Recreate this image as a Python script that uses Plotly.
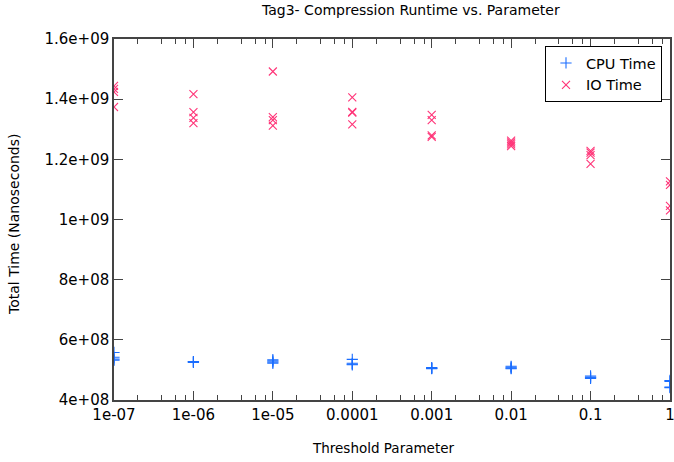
import plotly.graph_objects as go

# Threshold parameter values (x positions)
params = [1e-07, 1e-06, 1e-05, 1e-04, 1e-03, 1e-02, 1e-01, 1.0]

# Four runs per parameter
cpu_time = [
    [5.58e8, 5.42e8, 5.36e8, 5.32e8],
    [5.28e8, 5.27e8, 5.26e8, 5.25e8],
    [5.34e8, 5.30e8, 5.26e8, 5.22e8],
    [5.35e8, 5.22e8, 5.19e8, 5.17e8],
    [5.08e8, 5.06e8, 5.05e8, 5.04e8],
    [5.12e8, 5.09e8, 5.06e8, 5.04e8],
    [4.80e8, 4.76e8, 4.74e8, 4.72e8],
    [4.65e8, 4.62e8, 4.43e8, 4.41e8],
]
io_time = [
    [1.444e9, 1.434e9, 1.424e9, 1.374e9],
    [1.417e9, 1.357e9, 1.338e9, 1.320e9],
    [1.492e9, 1.340e9, 1.330e9, 1.312e9],
    [1.406e9, 1.358e9, 1.355e9, 1.316e9],
    [1.348e9, 1.330e9, 1.280e9, 1.275e9],
    [1.262e9, 1.256e9, 1.250e9, 1.244e9],
    [1.228e9, 1.222e9, 1.214e9, 1.185e9],
    [1.127e9, 1.115e9, 1.045e9, 1.030e9],
]

x_tickvals = params
x_ticktext = ["1e-07", "1e-06", "1e-05", "0.0001", "0.001", "0.01", "0.1", "1"]
y_tickvals = [4e8, 6e8, 8e8, 1e9, 1.2e9, 1.4e9, 1.6e9]
y_ticktext = ["4e+08", "6e+08", "8e+08", "1e+09", "1.2e+09", "1.4e+09", "1.6e+09"]
minor_mult = [2, 4, 6, 8]

title = "Tag3- Compression Runtime vs. Parameter"
x_title = "Threshold Parameter"
y_title = "Total Time (Nanoseconds)"

cpu_color = "#1a6dff"
io_color = "#ff3377"

def flatten(xs, ys):
    fx, fy = [], []
    for x, group in zip(xs, ys):
        for v in group:
            fx.append(x)
            fy.append(v)
    return fx, fy

cx, cy = flatten(params, cpu_time)
ix, iy = flatten(params, io_time)

fig = go.Figure()
fig.add_trace(go.Scatter(
    x=cx, y=cy, mode="markers", name="CPU Time",
    marker=dict(symbol="cross-thin-open", size=8,
                line=dict(color=cpu_color, width=1.1), color=cpu_color),
))
fig.add_trace(go.Scatter(
    x=ix, y=iy, mode="markers", name="IO Time",
    marker=dict(symbol="x-thin-open", size=8,
                line=dict(color=io_color, width=1.1), color=io_color),
))

minor_vals = [m * p for p in params[:-1] for m in minor_mult]

font_family = "DejaVu Sans, Verdana, sans-serif"
axis_color = "#444444"

L, R, T, B = 114, 4, 39, 62
PW, PH = 674 - L - R, 462 - T - B

fig.update_layout(
    width=674, height=462,
    margin=dict(l=L, r=R, t=T, b=B, autoexpand=False),
    paper_bgcolor="white", plot_bgcolor="white",
    font=dict(family=font_family, size=13, color="black"),
    showlegend=True,
    legend=dict(
        x=(662 - L) / PW, y=1 - (46 - T) / PH, xanchor="right", yanchor="top",
        bordercolor="black", borderwidth=1, bgcolor="white",
        font=dict(size=14.5, family=font_family),
        tracegroupgap=0, itemwidth=30,
    ),
)
fig.add_annotation(text=title, xref="paper", yref="paper",
                   x=(410 - L) / PW, y=1 + (T - 10) / PH,
                   xanchor="center", yanchor="middle", showarrow=False,
                   font=dict(size=14, family=font_family))
fig.add_annotation(text=x_title, xref="paper", yref="paper",
                   x=(383 - L) / PW, y=-(448 - 400) / PH,
                   xanchor="center", yanchor="middle", showarrow=False,
                   font=dict(size=13.5, family=font_family))
fig.add_annotation(text=y_title, xref="paper", yref="paper",
                   x=-(L - 14) / PW, y=(400 - 224) / PH, textangle=-90,
                   xanchor="center", yanchor="middle", showarrow=False,
                   font=dict(size=14, family=font_family))

fig.update_xaxes(
    type="log", range=[-7, 0.0003], automargin=False,
    tickvals=x_tickvals, ticktext=x_ticktext,
    ticks="inside", ticklen=9, tickcolor=axis_color, tickwidth=1,
    showline=True, linecolor=axis_color, linewidth=1.5, mirror="ticks",
    showgrid=False, zeroline=False, ticklabeloverflow="allow",
    tickfont=dict(size=15, family=font_family),
    minor=dict(tickvals=minor_vals, ticks="inside", ticklen=5,
               tickcolor=axis_color, showgrid=False),
)
fig.update_yaxes(
    range=[4e8, 1.6e9], automargin=False,
    tickvals=y_tickvals, ticktext=y_ticktext,
    ticks="inside", ticklen=9, tickcolor=axis_color, tickwidth=1,
    showline=True, linecolor=axis_color, linewidth=1.5, mirror="ticks",
    showgrid=False, zeroline=False, ticklabeloverflow="allow",
    tickfont=dict(size=15, family=font_family),
)

fig.write_html(
    "out.html",
    config={"displayModeBar": False},
    post_script="document.body.style.margin='0';document.body.style.overflow='hidden';",
)
